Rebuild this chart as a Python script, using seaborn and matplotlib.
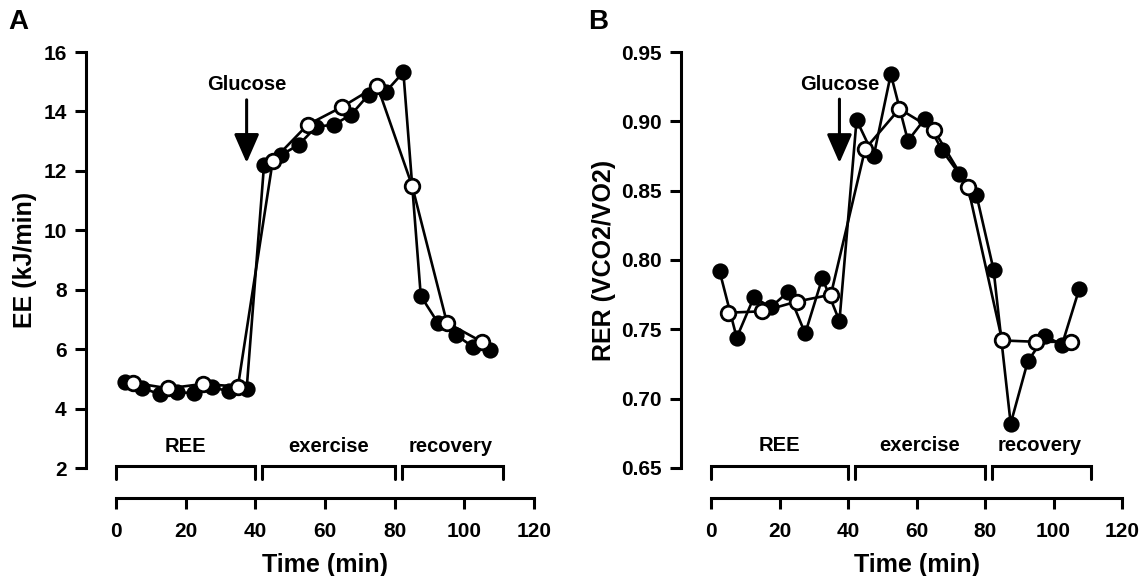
import matplotlib
matplotlib.use("Agg")
import matplotlib.pyplot as plt
import seaborn as sns
import pandas as pd

# ---------------- data ----------------
time_filled = [2.5, 7.5, 12.5, 17.5, 22.5, 27.5, 32.5, 37.5, 42.5, 47.5, 52.5,
               57.5, 62.5, 67.5, 72.5, 77.5, 82.5, 87.5, 92.5, 97.5, 102.5, 107.5]
time_open = [5, 15, 25, 35, 45, 55, 65, 75, 85, 95, 105]

ee_filled = [4.88, 4.70, 4.48, 4.55, 4.52, 4.72, 4.58, 4.65, 12.20, 12.54, 12.88,
             13.49, 13.55, 13.89, 14.56, 14.67, 15.32, 7.79, 6.87, 6.48, 6.08, 5.97]
ee_open = [4.87, 4.68, 4.83, 4.74, 12.34, 13.55, 14.16, 14.87, 11.50, 6.89, 6.25]

rer_filled = [0.792, 0.744, 0.773, 0.766, 0.777, 0.747, 0.787, 0.756, 0.901, 0.875, 0.934,
              0.886, 0.902, 0.879, 0.862, 0.847, 0.793, 0.682, 0.727, 0.745, 0.739, 0.779]
rer_open = [0.762, 0.763, 0.770, 0.775, 0.880, 0.909, 0.894, 0.853, 0.742, 0.741, 0.741]

x_ticks = [0, 20, 40, 60, 80, 100, 120]
ee_ticks = [2, 4, 6, 8, 10, 12, 14, 16]
rer_ticks = [0.65, 0.70, 0.75, 0.80, 0.85, 0.90, 0.95]
rer_ticklabels = ["0.65", "0.70", "0.75", "0.80", "0.85", "0.90", "0.95"]

phase_labels = ["REE", "exercise", "recovery"]
phase_start = [0, 42, 82]
phase_end = [40, 80, 111]
phase_label_x = [20, 61, 96]
glucose_time = 37.5

# ---------------- style ----------------
sns.set_style("ticks")
plt.rcParams["font.family"] = ["Liberation Sans", "DejaVu Sans"]
plt.rcParams["font.weight"] = "bold"
plt.rcParams["axes.labelweight"] = "bold"
plt.rcParams["text.color"] = "black"
plt.rcParams["axes.labelcolor"] = "black"
plt.rcParams["xtick.color"] = "black"
plt.rcParams["ytick.color"] = "black"
plt.rcParams["axes.edgecolor"] = "black"

W, H = 1148, 576
fig = plt.figure(figsize=(W / 100, H / 100), dpi=100)
fig.patch.set_facecolor("white")

axA = fig.add_axes([116 / W, (H - 468) / H, (534 - 116) / W, (468 - 52) / H])
axB = fig.add_axes([711 / W, (H - 468) / H, (1122 - 711) / W, (468 - 52) / H])

lw = 1.9
ms = 10.5


def draw(ax, yf, yo, ylim, yticks, yticklabels, ylabel, ylabel_x,
         br_top, br_leg, lab_y, arrow_from, arrow_to, gl_y):
    df_f = pd.DataFrame({"Time": time_filled, "Value": yf})
    df_o = pd.DataFrame({"Time": time_open, "Value": yo})
    sns.lineplot(data=df_f, x="Time", y="Value", ax=ax, color="black", lw=lw,
                 marker="o", markersize=ms, markerfacecolor="black",
                 markeredgecolor="black", markeredgewidth=1.2, zorder=3, clip_on=False)
    sns.lineplot(data=df_o, x="Time", y="Value", ax=ax, color="black", lw=lw,
                 marker="o", markersize=ms, markerfacecolor="white",
                 markeredgecolor="black", markeredgewidth=2.0, zorder=4, clip_on=False)

    ax.set_xlim(0, 120)
    ax.set_ylim(*ylim)
    ax.set_xticks(x_ticks)
    ax.set_yticks(yticks)
    ax.set_yticklabels(yticklabels)
    for side in ["top", "right"]:
        ax.spines[side].set_visible(False)
    for side in ["left", "bottom"]:
        ax.spines[side].set_position(("outward", 21.6))
        ax.spines[side].set_linewidth(2.2)
        ax.spines[side].set_color("black")
    ax.tick_params(axis="both", direction="out", length=8, width=2.2,
                   labelsize=15, pad=6, color="black", labelcolor="black")
    ax.tick_params(axis="x", pad=9)
    for lab in ax.get_xticklabels() + ax.get_yticklabels():
        lab.set_fontweight("bold")

    ax.set_xlabel("Time (min)", fontsize=18, fontweight="bold", color="black")
    ax.set_ylabel(ylabel, fontsize=18, fontweight="bold", color="black")
    ax.xaxis.set_label_coords(0.5, -0.205)
    ax.yaxis.set_label_coords(ylabel_x, 0.5)

    # phase brackets
    for s, e, name, lx in zip(phase_start, phase_end, phase_labels, phase_label_x):
        ax.plot([s, s, e, e], [br_leg, br_top, br_top, br_leg], color="black",
                lw=2.2, clip_on=False, solid_joinstyle="miter")
        ax.text(lx, lab_y, name, ha="center", va="center", fontsize=14.5,
                fontweight="bold", clip_on=False, color="black")

    # glucose arrow
    ax.annotate("", xy=(glucose_time, arrow_to), xytext=(glucose_time, arrow_from),
                arrowprops=dict(arrowstyle="-|>,head_length=0.8,head_width=0.35",
                                lw=2.2, color="black", mutation_scale=22,
                                shrinkA=0, shrinkB=0))
    ax.text(glucose_time, gl_y, "Glucose", ha="center", va="center",
            fontsize=14.5, fontweight="bold", color="black")
    ax.grid(False)


draw(axA, ee_filled, ee_open, (2, 16), ee_ticks, [str(v) for v in ee_ticks],
     "EE (kJ/min)", -0.19, 2.07, 1.63, 2.74, 14.39, 12.27, 14.9)
draw(axB, rer_filled, rer_open, (0.65, 0.95), rer_ticks, rer_ticklabels,
     "RER (VCO2/VO2)", -0.232, 0.6514, 0.6420, 0.6663, 0.916, 0.870, 0.9267)

fig.text(18 / W, 1 - 22 / H, "A", fontsize=20, fontweight="bold", ha="center", va="center")
fig.text(598 / W, 1 - 22 / H, "B", fontsize=20, fontweight="bold", ha="center", va="center")

fig.savefig("out.png", dpi=100, facecolor="white")
